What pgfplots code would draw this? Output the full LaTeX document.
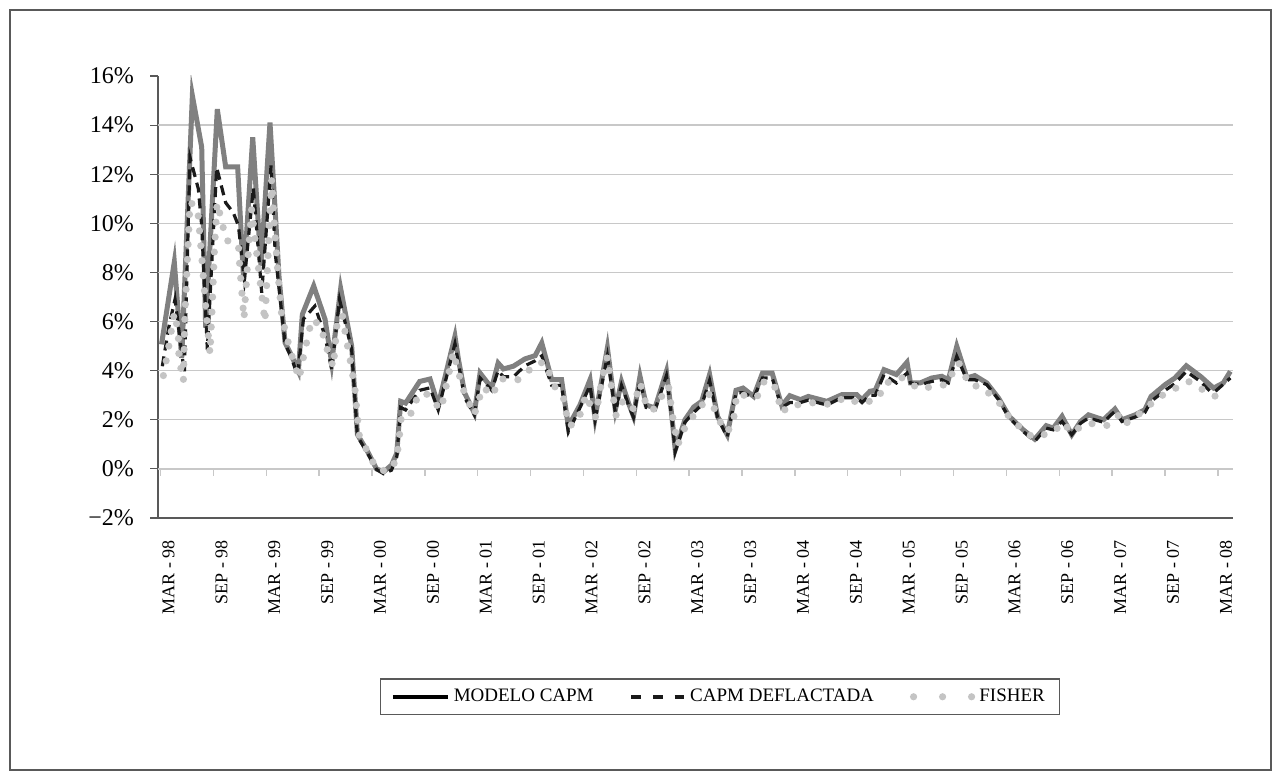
\documentclass[border=0pt]{standalone}
\usepackage{fontspec}
\setmainfont{Liberation Serif}
\usepackage{pgfplots}
\usepackage{pgfplotstable}
\pgfplotsset{compat=1.18}
\definecolor{capm}{HTML}{808080}
\definecolor{defl}{HTML}{1A1A1A}
\definecolor{fish}{HTML}{C4C4C4}
\definecolor{gridc}{HTML}{C8C8C8}
\definecolor{axc}{HTML}{595959}
\pgfplotsset{
  legsolid/.style={legend image code/.code={\draw[##1] (0pt,0pt) -- (27.5pt,0pt);}},
  legdash/.style={legend image code/.code={\draw[##1] (0pt,0pt) -- (26.5pt,0pt);}},
  legdot/.style={legend image code/.code={\draw[##1] (0pt,0pt) -- (29.1pt,0pt);}},
}

\pgfplotstableread{
x y
0.4 5.07
1.85 8.42
2.69 4.52
3.9 15.2
4.96 13.1
5.41 5.75
6.73 14.65
7.68 12.3
9.04 12.3
9.72 7.7
10.75 13.5
11.69 8.26
12.71 14.1
13.73 7.85
14.42 5.14
15.17 4.6
15.93 3.98
16.38 6.29
17.67 7.45
18.96 6.09
19.71 4.32
20.73 7.34
21.98 5.0
22.63 1.4
23.87 0.65
24.8 0.0
25.6 -0.12
26.5 0.15
27.1 0.64
27.54 2.75
28.1 2.68
29.7 3.56
30.87 3.66
31.8 2.6
33.7 5.4
34.1 4.45
34.8 3.09
35.9 2.27
36.55 3.9
37.87 3.29
38.6 4.31
39.2 4.07
40.33 4.18
41.65 4.48
42.8 4.61
43.55 5.13
44.68 3.63
45.8 3.63
46.57 1.73
47.9 2.61
49.03 3.63
49.6 2.07
51.0 4.93
51.9 2.4
52.6 3.56
53.4 2.68
53.96 2.14
54.7 3.77
55.4 2.6
56.4 2.48
57.7 3.97
58.3 2.2
58.7 0.78
59.8 2.0
60.8 2.52
61.7 2.75
62.6 3.84
63.5 2.14
64.6 1.39
65.6 3.2
66.4 3.29
67.6 2.95
68.6 3.9
69.7 3.9
70.8 2.57
71.7 2.98
72.9 2.82
73.8 2.95
75.9 2.75
77.6 3.02
79.3 3.02
79.9 2.82
80.8 3.16
81.4 3.2
82.4 4.04
83.8 3.84
85.0 4.34
85.4 3.5
86.5 3.5
87.8 3.7
88.95 3.77
89.7 3.63
90.65 4.99
91.8 3.7
92.7 3.8
94.06 3.5
95.4 2.88
96.6 2.14
98.2 1.59
99.5 1.21
100.8 1.76
101.6 1.66
102.6 2.14
103.7 1.39
104.7 1.93
105.6 2.2
107.3 2.0
108.6 2.44
109.4 2.0
110.9 2.2
112.0 2.41
112.7 2.95
114.3 3.43
115.4 3.7
116.7 4.2
118.3 3.77
119.8 3.29
120.9 3.5
121.7 3.97
}\tCAPM

\pgfplotstableread{
x y
0.49 4.18
1.24 5.8
1.93 6.9
2.99 3.9
3.63 12.68
4.58 11.4
4.96 9.9
5.6 4.86
6.66 12.27
7.68 10.84
8.55 10.43
9.13 9.9
9.8 7.7
10.82 11.45
11.77 7.17
12.83 12.36
13.3 8.8
14.42 5.1
15.17 4.5
15.85 3.78
16.5 6.1
17.8 6.63
18.96 5.4
19.71 4.05
20.6 6.9
21.98 4.86
22.63 1.33
23.87 0.58
24.82 -0.03
25.6 -0.2
26.5 -0.05
27.1 0.5
27.54 2.5
28.1 2.4
29.7 3.2
30.87 3.3
31.8 2.4
33.7 5.1
34.1 4.3
34.8 2.9
35.9 2.2
36.55 3.7
37.87 3.2
38.6 4.0
39.2 3.75
40.33 3.75
41.65 4.2
42.8 4.4
43.55 4.6
44.68 3.4
45.8 3.4
46.57 1.5
47.9 2.5
49.03 3.4
49.6 2.0
51.0 4.6
51.9 2.3
52.6 3.4
53.4 2.6
53.96 2.1
54.7 3.6
55.4 2.5
56.4 2.4
57.7 3.8
58.3 2.1
58.7 0.7
59.8 1.9
60.8 2.3
61.7 2.6
62.6 3.6
63.5 2.1
64.6 1.3
65.6 3.1
66.4 3.1
67.6 2.9
68.6 3.7
69.7 3.7
70.8 2.5
71.7 2.7
72.9 2.7
73.8 2.8
75.9 2.6
77.6 2.9
79.3 2.9
79.9 2.7
80.8 3.0
81.4 3.0
82.4 3.84
83.8 3.5
85.0 3.9
85.4 3.5
86.5 3.43
87.8 3.56
88.95 3.63
89.7 3.5
90.65 4.58
91.8 3.63
92.7 3.63
94.06 3.43
95.4 2.82
96.6 2.07
98.2 1.52
99.5 1.12
100.8 1.66
101.6 1.59
102.6 1.93
103.7 1.39
104.7 1.86
105.6 2.07
107.3 1.9
108.6 2.35
109.4 1.93
110.9 2.11
112.0 2.3
112.7 2.75
114.3 3.2
115.4 3.47
116.7 3.97
118.3 3.56
119.4 3.16
120.0 3.16
121.7 3.7
}\tDEFL

\pgfplotstableread{
x y
0.61 3.80
1.1 4.73
1.55 5.71
1.85 6.36
2.12 5.88
2.31 5.41
2.38 4.48
2.88 3.57
3.06 6.29
3.29 8.15
3.52 9.96
3.63 10.87
4.5 10.6
4.96 8.63
5.41 6.63
5.9 4.69
6.17 6.74
6.39 8.8
6.7 10.84
7.23 10.1
7.72 9.31
9.12 9.14
9.3 8.13
9.76 6.11
10.25 8.8
10.63 10.57
11.2 8.78
12.14 5.99
12.52 8.91
12.9 11.79
13.2 9.96
13.58 8.1
14.04 6.25
14.6 5.38
15.25 4.55
16.0 3.67
16.69 4.86
17.44 6.09
18.46 5.84
19.07 5.0
19.9 4.14
20.35 6.02
20.92 6.28
21.37 5.27
21.9 4.25
22.36 3.23
22.81 1.4
23.8 0.68
24.8 0.0
26.14 -0.11
27.09 0.37
27.39 1.32
27.65 2.24
28.86 2.27
29.43 2.93
30.3 3.12
32.12 2.41
32.84 3.59
33.52 4.76
34.09 3.95
34.77 3.09
35.9 2.2
36.85 3.33
38.06 2.98
38.44 3.52
39.19 3.67
40.93 3.63
42.98 4.3
43.92 4.34
45.13 3.27
46.0 2.91
46.61 1.76
47.4 1.84
48.16 2.41
48.54 3.02
49.64 2.11
50.05 2.93
50.43 3.74
51.0 4.56
51.45 3.38
51.99 2.18
52.75 2.75
53.88 2.41
54.71 3.5
55.47 2.52
56.15 2.38
57.93 3.39
58.39 2.16
58.99 0.98
59.9 1.76
61.83 2.64
62.47 3.09
63.49 2.1
64.48 1.5
65.23 1.76
65.69 3.06
67.13 2.95
67.96 2.91
68.79 3.56
69.85 3.52
70.83 2.3
71.74 2.61
73.25 2.61
74.69 2.72
76.36 2.61
77.98 2.91
79.04 2.75
80.2 2.68
81.87 2.91
82.25 3.43
84.3 3.74
86.41 3.25
88.0 3.36
89.44 3.43
90.84 4.34
92.09 3.43
93.57 3.32
95.95 2.52
96.71 2.03
99.28 1.28
101.7 1.5
102.61 1.9
103.78 1.48
105.18 1.84
106.28 1.84
107.65 1.76
109.0 2.18
109.64 1.8
112.03 2.41
113.28 2.86
115.05 3.2
116.95 3.56
119.9 2.95
121.22 3.27
}\tFISH

\begin{document}
\begin{tikzpicture}
\useasboundingbox (0,0) rectangle (640.5pt,390pt);
\draw[axc, line width=0.6pt] (5pt,5pt) rectangle (635.5pt,385pt);
\begin{axis}[
  at={(79pt,131pt)}, anchor=south west,
  scale only axis, width=537.5pt, height=221pt,
  xmin=0, xmax=122, ymin=-2, ymax=16,
  axis x line*=bottom, axis y line*=left,
  axis line style={axc, line width=0.6pt},
  tick align=outside,
  ytick={-2,0,...,16},
  yticklabels={−2\%,0\%,2\%,4\%,6\%,8\%,10\%,12\%,14\%,16\%},
  y tick style={axc, line width=0.6pt},
  major tick length=4pt,
  yticklabel style={font=\fontsize{12}{14}\selectfont, xshift=-4.5pt},
  xtick={1.2,7.2,13.2,19.2,25.2,31.2,37.2,43.2,49.2,55.2,61.2,67.2,73.2,79.2,85.2,91.2,97.2,103.2,109.2,115.2,121.2},
  xticklabels={MAR - 98,SEP - 98,MAR - 99,SEP - 99,MAR - 00,SEP - 00,MAR - 01,SEP - 01,MAR - 02,SEP - 02,MAR - 03,SEP - 03,MAR - 04,SEP - 04,MAR - 05,SEP - 05,MAR - 06,SEP - 06,MAR - 07,SEP - 07,MAR - 08},
  x tick style={draw=none},
  xticklabel style={rotate=90, anchor=east, font=\fontsize{9}{10}\selectfont},
  xticklabel shift=3.5pt,
  extra y ticks={0,2,...,14},
  extra y tick labels={},
  extra y tick style={grid=major, major grid style={gridc, line width=0.7pt}, tick style={draw=none}},
  legend style={at={(0.5228,-0.4045)}, anchor=center, legend columns=3, draw=axc, line width=0.6pt,
    font=\fontsize{9.5}{11}\selectfont, inner xsep=5.5pt, inner ysep=3pt,
    /tikz/every even column/.append style={column sep=16pt}},
]
\pgfplotsinvokeforeach{0,...,20}{
  \draw[gridc, line width=0.7pt] (axis cs:{0.28+6*#1},0) -- ++(0pt,-3.5pt);
}
\addplot[forget plot, capm, line width=2.5pt, line join=miter] table[x=x,y=y] {\tCAPM};
\addplot[forget plot, defl, line width=1.6pt, dash pattern=on 5pt off 3pt] table[x=x,y=y] {\tDEFL};
\addplot[forget plot, fish, line width=3.6pt, line cap=round, dash pattern=on 0pt off 7.5pt] table[x=x,y=y] {\tFISH};
\addlegendimage{legsolid, black, line width=1.8pt}
\addlegendentry{MODELO CAPM}
\addlegendimage{legdash, defl, line width=1.8pt, dash pattern=on 4.8pt off 6pt}
\addlegendentry{CAPM DEFLACTADA}
\addlegendimage{legdot, fish, line width=3.6pt, line cap=round, dash pattern=on 0pt off 14.5pt}
\addlegendentry{FISHER}
\end{axis}
\end{tikzpicture}
\end{document}
